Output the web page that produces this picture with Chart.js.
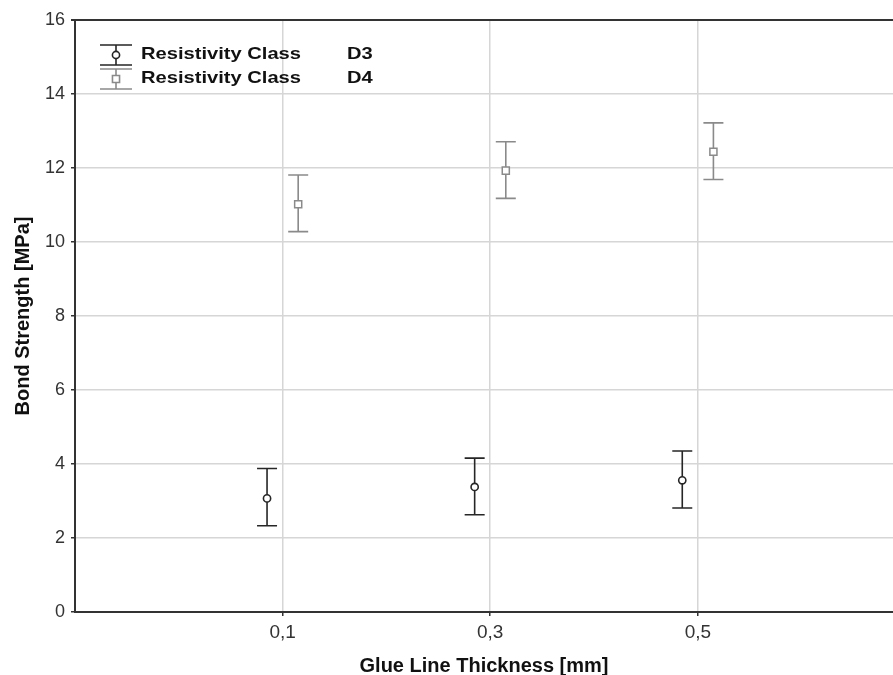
<!DOCTYPE html>
<html>
<head>
<meta charset="utf-8">
<title>Bond Strength</title>
<script src="https://cdn.jsdelivr.net/npm/chart.js@4.4.0/dist/chart.umd.min.js"></script>
<style>
html, body { margin: 0; padding: 0; background: #fff; overflow: hidden; }
</style>
</head>
<body>
<canvas id="grafico" width="893" height="675"></canvas>
<script>
const grosores = [0.1, 0.3, 0.5];
const etiquetasX = ['0,1', '0,3', '0,5'];
const ticksY = [0, 2, 4, 6, 8, 10, 12, 14, 16];

const claseTexto = 'Resistivity Class';
const clases = ['D3', 'D4'];

const mediaD3 = [3.07, 3.38, 3.56];
const minD3 = [2.33, 2.63, 2.81];
const maxD3 = [3.88, 4.16, 4.35];

const mediaD4 = [11.02, 11.93, 12.44];
const minD4 = [10.28, 11.18, 11.69];
const maxD4 = [11.81, 12.71, 13.22];

const desfase = 0.015;
const fuente = '"Liberation Sans", Arial, sans-serif';

function armarPuntos(medias, minimos, maximos, corrimiento) {
    return grosores.map((g, i) => ({ x: g + corrimiento, y: medias[i], inf: minimos[i], sup: maximos[i] }));
}

function escribirEstirado(ctx, texto, x, y) {
    ctx.save();
    ctx.translate(x, y);
    ctx.scale(1.22, 1);
    ctx.fillText(texto, 0, 0);
    ctx.restore();
}

function trazarBarra(ctx, x, yInf, ySup, ancho) {
    ctx.beginPath();
    ctx.moveTo(x, yInf);
    ctx.lineTo(x, ySup);
    ctx.moveTo(x - ancho, yInf);
    ctx.lineTo(x + ancho, yInf);
    ctx.moveTo(x - ancho, ySup);
    ctx.lineTo(x + ancho, ySup);
    ctx.stroke();
}

const barrasError = {
    id: 'barrasError',
    beforeDatasetsDraw(chart) {
        const ctx = chart.ctx;
        const escalaY = chart.scales.y;
        chart.data.datasets.forEach((ds, i) => {
            const meta = chart.getDatasetMeta(i);
            ctx.save();
            ctx.strokeStyle = ds.borderColor;
            ctx.lineWidth = 1.6;
            meta.data.forEach((pt, j) => {
                const dato = ds.data[j];
                trazarBarra(ctx, pt.x, escalaY.getPixelForValue(dato.inf), escalaY.getPixelForValue(dato.sup), 10);
            });
            ctx.restore();
        });
    }
};

const leyenda = {
    id: 'leyenda',
    afterDraw(chart) {
        const ctx = chart.ctx;
        const area = chart.chartArea;
        chart.data.datasets.forEach((ds, i) => {
            const cx = area.left + 41;
            const cy = area.top + 35 + i * 24;
            ctx.save();
            ctx.strokeStyle = ds.borderColor;
            ctx.lineWidth = 1.6;
            trazarBarra(ctx, cx, cy + 10, cy - 10, 16);
            ctx.fillStyle = '#fff';
            Chart.helpers.drawPoint(ctx, { pointStyle: ds.pointStyle, radius: ds.pointRadius, borderWidth: ds.borderWidth, rotation: 0 }, cx, cy);
            ctx.fillStyle = '#111';
            ctx.font = 'bold 16.5px ' + fuente;
            ctx.textBaseline = 'middle';
            ctx.textAlign = 'left';
            escribirEstirado(ctx, claseTexto, area.left + 66, cy - 1);
            escribirEstirado(ctx, clases[i], area.left + 272, cy - 1);
            ctx.restore();
        });
    }
};

const ctx = document.getElementById('grafico').getContext('2d');
const grafico = new Chart(ctx, {
    type: 'scatter',
    data: {
        datasets: [{
            label: claseTexto + ' ' + clases[0],
            data: armarPuntos(mediaD3, minD3, maxD3, -desfase),
            borderColor: '#262626',
            backgroundColor: '#fff',
            pointStyle: 'circle',
            pointRadius: 3.6,
            borderWidth: 1.6
        }, {
            label: claseTexto + ' ' + clases[1],
            data: armarPuntos(mediaD4, minD4, maxD4, desfase),
            borderColor: '#8a8a8a',
            backgroundColor: '#fff',
            pointStyle: 'rect',
            pointRadius: 5,
            borderWidth: 1.5
        }]
    },
    options: {
        responsive: false,
        animation: false,
        devicePixelRatio: 1,
        layout: { autoPadding: false, padding: { top: 20, right: 0, bottom: 0, left: 0 } },
        plugins: {
            legend: { display: false },
            tooltip: { enabled: false }
        },
        scales: {
            x: {
                type: 'linear',
                min: -0.1,
                max: 0.688,
                afterBuildTicks: s => { s.ticks = grosores.map(v => ({ value: v })); },
                afterFit: s => { s.height = 63; },
                ticks: {
                    callback: v => etiquetasX[grosores.indexOf(v)],
                    font: { family: fuente, size: 19 },
                    color: '#333',
                    padding: 5,
                    maxRotation: 0,
                    autoSkip: false
                },
                grid: { color: '#d6d6d6', lineWidth: 1.5, tickColor: '#333', tickLength: 4 },
                border: { color: '#333', width: 2 },
                title: {
                    display: true,
                    text: 'Glue Line Thickness [mm]',
                    color: '#111',
                    font: { family: fuente, size: 20, weight: 'bold', lineHeight: 1 },
                    padding: { top: 0, bottom: -1 }
                }
            },
            y: {
                min: 0,
                max: 16,
                afterBuildTicks: s => { s.ticks = ticksY.map(v => ({ value: v })); },
                afterFit: s => { s.width = 75; },
                ticks: {
                    font: { family: fuente, size: 18 },
                    color: '#333',
                    padding: 6
                },
                grid: {
                    color: c => (c.tick && c.tick.value === 16) ? '#333' : '#d6d6d6',
                    lineWidth: c => (c.tick && c.tick.value === 16) ? 2 : 1.5,
                    tickColor: '#333',
                    tickLength: 4
                },
                border: { color: '#333', width: 2 },
                title: {
                    display: true,
                    text: 'Bond Strength [MPa]',
                    color: '#111',
                    font: { family: fuente, size: 20, weight: 'bold', lineHeight: 1 },
                    padding: { top: 13, bottom: 0 }
                }
            }
        }
    },
    plugins: [barrasError, leyenda]
});
</script>
</body>
</html>
